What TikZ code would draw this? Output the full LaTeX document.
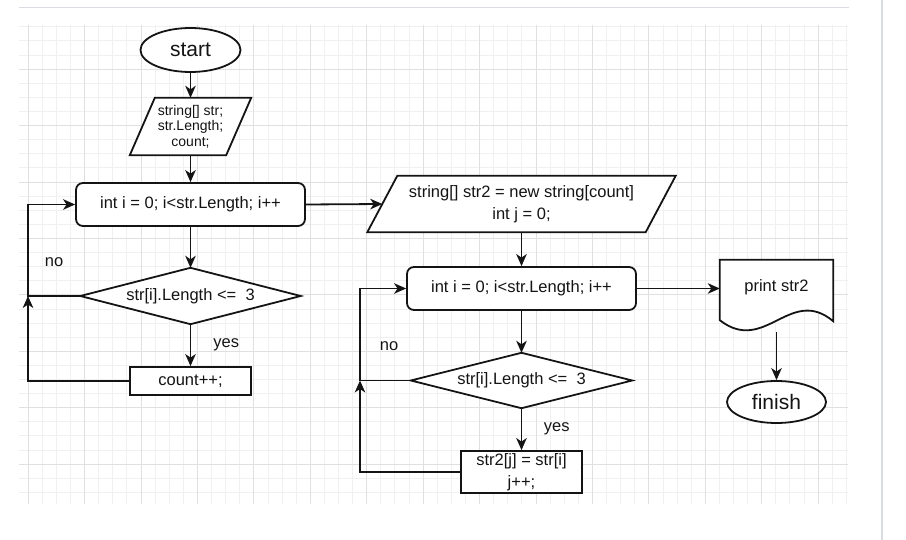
\documentclass[tikz,border=0pt]{standalone}
\usepackage{fontspec}
\setmainfont{Liberation Sans}
\usetikzlibrary{positioning}
\usetikzlibrary{arrows.meta}
\usetikzlibrary{shapes.geometric}

\definecolor{gridminor}{RGB}{240,240,240}
\definecolor{gridmajor}{RGB}{224,224,224}
\definecolor{framecol}{RGB}{218,220,228}
\definecolor{ink}{RGB}{20,20,20}

\pgfdeclarelayer{grid}
\pgfdeclarelayer{bg}
\pgfsetlayers{grid,bg,main}

\tikzset{
  flow/.style={line width=1.8pt,draw=ink},
  arr/.style={flow,-{Stealth[length=12pt,width=10.5pt,inset=3.5pt]}},
  txt/.style={text=ink,font=\fontsize{16.5}{22}\selectfont},
  lbl/.style={inner sep=0pt,text=ink,font=\fontsize{16.5}{19}\selectfont},
  term/.style={flow,ellipse,fill=white,inner sep=0pt,text=ink,font=\fontsize{21}{24}\selectfont},
  box/.style={flow,rectangle,fill=white,inner sep=0pt,align=center,txt},
  loopbox/.style={box,rounded corners=7pt,minimum width=229pt,minimum height=43pt},
  hidden/.style={rectangle,inner sep=0pt,align=center,txt}
}

\begin{document}
\begin{tikzpicture}[x=1pt,y=-1pt]
 \useasboundingbox (0,0) rectangle (906,540);
 \begin{pgfonlayer}{grid}
 \draw[line width=1pt,framecol] (19,8) -- (849,8);
 \draw[line width=1.2pt,framecol] (882,0) -- (882,540);
 \foreach \k in {0,...,58} \draw[line width=0.6pt,gridminor] ({28+14.107*\k},25) -- ({28+14.107*\k},504);
 \foreach \k in {-3,...,30} \draw[line width=0.6pt,gridminor] (19,{69+14.107*\k}) -- (848,{69+14.107*\k});
 \foreach \k in {0,...,14} \draw[line width=0.7pt,gridmajor] ({28+56.43*\k},25) -- ({28+56.43*\k},504);
 \foreach \k in {0,...,7} \draw[line width=0.7pt,gridmajor] (19,{69+56.43*\k}) -- (848,{69+56.43*\k});
 \end{pgfonlayer}

 % left column
 \node[term,minimum width=100pt,minimum height=44pt] (start) at (190.5,50) {start};
 \node[hidden,minimum width=96pt,minimum height=57pt,font=\fontsize{14}{15.5}\selectfont] (in1) at (190.5,126.5) {string[] str;\\str.Length;\\count;};
 \node[loopbox] (for1) at (190.5,204.5) {int i = 0; i<str.Length; i++};
 \node[hidden,minimum width=220pt,minimum height=56pt] (if1) at (190.5,296) {str[i].Length <=\ \ 3};
 \node[box,minimum width=121pt,minimum height=28pt] (cnt) at (190.5,381) {count++;};
 \coordinate (j1) at (28,296);

 % right column
 \node[hidden,minimum width=278pt,minimum height=56pt] (in2) at (521.5,204) {string[] str2 = new string[count]\\int j = 0;};
 \node[loopbox] (for2) at (521.5,288.5) {int i = 0; i<str.Length; i++};
 \node[hidden,minimum width=221pt,minimum height=55pt] (if2) at (521.5,380.5) {str[i].Length <=\ \ 3};
 \node[box,minimum width=121pt,minimum height=42pt] (st3) at (521.5,472) {str2[j] = str[i]\\j++;};
 \coordinate (j2) at (360,380.5);

 \node[hidden,minimum width=113pt,minimum height=57pt] (doc) at (776.5,288.5) {\raisebox{6pt}{print str2}};
 \node[term,minimum width=99pt,minimum height=42pt] (fin) at (776.5,402) {finish};

 \begin{pgfonlayer}{bg}
 \draw[flow,fill=white] ([xshift=12.5pt]in1.north west) -- ([xshift=12.5pt]in1.north east) -- ([xshift=-12.5pt]in1.south east) -- ([xshift=-12.5pt]in1.south west) -- cycle;
 \draw[flow,fill=white] ([xshift=15pt]in2.north west) -- ([xshift=15pt]in2.north east) -- ([xshift=-15pt]in2.south east) -- ([xshift=-15pt]in2.south west) -- cycle;
 \draw[flow,fill=white] (if1.north) -- (if1.east) -- (if1.south) -- (if1.west) -- cycle;
 \draw[flow,fill=white] (if2.north) -- (if2.east) -- (if2.south) -- (if2.west) -- cycle;
 \draw[flow,fill=white] (doc.south west) -- (doc.north west) -- (doc.north east) -- ([shift={(0,4)}]doc.south east)
   .. controls ([shift={(-43,-32)}]doc.south east) and ([shift={(45,38)}]doc.south west) .. ([shift={(0,3)}]doc.south west) -- cycle;
 \end{pgfonlayer}

 \draw[arr] (start.south) -- (in1.north);
 \draw[arr] (in1.south) -- (for1.north);
 \draw[arr] (for1.south) -- (if1.north);
 \draw[arr] (if1.south) -- node[lbl,right=22pt]{yes} (cnt.north);
 \draw[arr] (cnt.west) -| (j1);
 \draw[arr] (if1.west) -- (j1) |- node[lbl,pos=0.185,right=16pt]{no} (for1.west);
 \draw[arr] (for1.east) -- (in2.west);

 \draw[arr] (in2.south) -- (for2.north);
 \draw[arr] (for2.south) -- (if2.north);
 \draw[arr] (if2.south) -- node[lbl,right=21.5pt]{yes} (st3.north);
 \draw[arr] (st3.west) -| (j2);
 \draw[arr] (if2.west) -- (j2) |- node[lbl,pos=0.1875,right=19pt]{no} (for2.west);
 \draw[arr] (for2.east) -- (doc.west);
 \draw[arr] ([yshift=-15pt]doc.south) -- (fin.north);
\end{tikzpicture}
\end{document}
